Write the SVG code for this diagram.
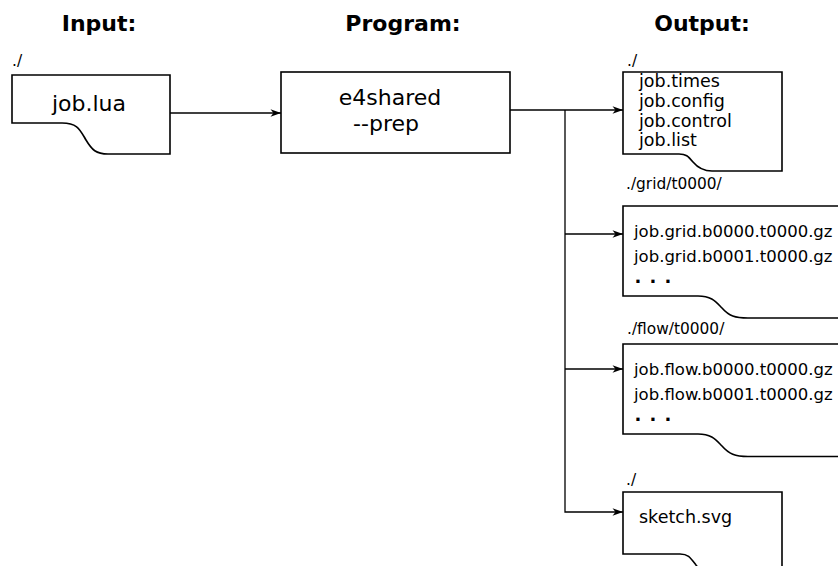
<svg xmlns="http://www.w3.org/2000/svg" width="838" height="566" viewBox="0 0 838 566">
<style>
text{font-family:"DejaVu Sans","Liberation Sans",sans-serif;fill:#000}
.hdr{font-weight:bold;font-size:22px;text-anchor:middle}
.dir{font-size:15.4px}
.big{font-size:22px;text-anchor:middle}
.f1{font-size:17.5px}
.f2{font-size:16.5px}
.dots{font-size:18px;font-weight:bold}
.box{fill:#fff;stroke:#000;stroke-width:1.6}
.con{fill:none;stroke:#000;stroke-width:1.3}
</style>
<defs>
<marker id="arr" markerUnits="userSpaceOnUse" markerWidth="14" markerHeight="10" viewBox="-11 -5 12 10" refX="0" refY="0" orient="auto">
<path d="M0,0 L-10.5,-3.8 L-7.5,0 L-10.5,3.8 Z" fill="#000"/>
</marker>
</defs>
<rect width="838" height="566" fill="#fff"/>
<g id="headers">
<text class="hdr" x="99" y="31">Input:</text>
<text class="hdr" x="403" y="31">Program:</text>
<text class="hdr" x="702" y="31">Output:</text>
</g>
<g id="connectors">
<path class="con" d="M170,113 H281" marker-end="url(#arr)"/>
<path class="con" d="M510,110 H623" marker-end="url(#arr)"/>
<path class="con" d="M565,234 H623" marker-end="url(#arr)"/>
<path class="con" d="M565,369 H623" marker-end="url(#arr)"/>
<path class="con" d="M565,110 V512 H623" marker-end="url(#arr)"/>
</g>
<g id="input">
<text class="dir" x="12" y="66">./</text>
<path class="box" d="M12,75 H170 V154 H108 C96,154 92,150 86,140 C80,130 78,123 62,123 H12 Z"/>
<text class="big" x="89" y="111">job.lua</text>
</g>
<g id="program">
<rect class="box" x="281" y="72" width="229" height="81"/>
<text class="big" x="390" y="105">e4shared</text>
<text class="big" x="386" y="131">--prep</text>
</g>
<g id="out-main">
<text class="dir" x="627" y="66">./</text>
<path class="box" d="M623,72 H782 V171 H712 C703,171 698,168 693,162 C688,156 686,154 679,154 H623 Z"/>
<text class="f1" x="639" y="87">job.times</text>
<text class="f1" x="639" y="107">job.config</text>
<text class="f1" x="639" y="126.5">job.control</text>
<text class="f1" x="639" y="146">job.list</text>
</g>
<g id="out-grid">
<text class="dir" x="626" y="189">./grid/t0000/</text>
<path class="box" d="M850,206 H623 V296 H698 C712,296 716,302 722,308 C729,316 735,318 748,318 H850 Z"/>
<text class="f2" x="634" y="237">job.grid.b0000.t0000.gz</text>
<text class="f2" x="634" y="262">job.grid.b0001.t0000.gz</text>
<text class="dots" x="634.5 649.5 664.5" y="282.5">...</text>
</g>
<g id="out-flow">
<text class="dir" x="627" y="334">./flow/t0000/</text>
<path class="box" d="M850,344 H623 V434 H698 C712,434 716,440 722,446 C729,454 735,456.5 748,456.5 H850 Z"/>
<text class="f2" x="634" y="375">job.flow.b0000.t0000.gz</text>
<text class="f2" x="634" y="400">job.flow.b0001.t0000.gz</text>
<text class="dots" x="634.5 649.5 664.5" y="420.5">...</text>
</g>
<g id="out-sketch">
<text class="dir" x="626" y="485">./</text>
<path class="box" d="M623,492 H782 V575 H712 C703,575 701,571 696,565 C690,557 688,554 680,554 H623 Z"/>
<text class="f1" x="639" y="523">sketch.svg</text>
</g>
</svg>
